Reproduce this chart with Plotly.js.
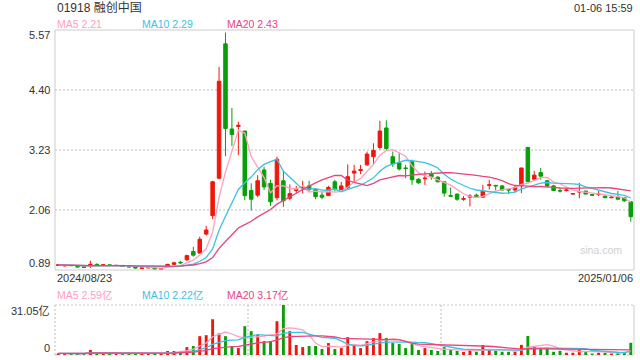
<!DOCTYPE html>
<html><head><meta charset="utf-8">
<script src="https://cdn.plot.ly/plotly-3.0.1.min.js"></script>
<style>html,body{margin:0;padding:0;background:#fff}#chart{width:640px;height:360px}</style>
</head><body><div id="chart"></div>
<script>
// ---- data (HKD, volume in 亿) ----
const openP  = [0.98,0.97,0.985,0.96,0.95,0.99,1.00,0.985,0.99,0.975,0.97,0.96,0.95,0.92,0.93,0.93,0.905,0.97,1.00,1.04,
                1.09,1.25,1.22,1.59,1.95,2.68,5.30,3.64,3.69,3.60,2.44,2.35,2.84,2.58,2.30,2.63,2.29,2.44,2.49,2.53,
                2.46,2.35,2.34,2.61,2.46,2.50,2.78,2.83,2.94,3.10,3.28,3.66,3.10,2.98,2.88,3.00,2.66,2.67,2.76,2.70,
                2.61,2.34,2.37,2.27,2.31,2.35,2.31,2.54,2.54,2.53,2.46,2.45,2.53,3.28,2.66,2.79,2.63,2.53,2.44,2.44,
                2.37,2.41,2.43,2.36,2.36,2.33,2.30,2.31,2.30,2.22];
const highP  = [1.00,0.985,0.99,0.97,0.955,1.07,1.02,1.00,0.995,0.99,0.98,0.965,0.955,0.94,0.955,0.935,0.92,1.01,1.05,1.07,
                1.19,1.34,1.54,1.75,2.63,4.85,5.52,4.05,3.78,3.60,2.58,2.74,2.90,2.65,3.10,2.83,2.56,2.53,2.63,2.63,
                2.46,2.42,2.53,2.65,2.61,2.95,2.94,2.94,3.20,3.36,3.80,3.81,3.20,3.18,2.94,3.04,2.68,2.81,2.82,2.72,
                2.61,2.50,2.38,2.33,2.37,2.38,2.55,2.65,2.55,2.55,2.46,2.55,2.88,3.29,2.82,2.88,2.65,2.55,2.50,2.48,
                2.39,2.59,2.43,2.37,2.43,2.34,2.32,2.43,2.31,2.22];
const lowP   = [0.97,0.96,0.97,0.945,0.93,0.93,0.98,0.98,0.97,0.97,0.95,0.94,0.92,0.91,0.925,0.90,0.90,0.96,0.99,1.01,
                1.06,1.15,1.21,1.56,1.88,2.66,3.11,3.31,3.13,2.25,2.05,2.31,2.45,2.14,2.25,2.12,2.25,2.38,2.38,2.42,
                2.27,2.27,2.34,2.42,2.44,2.46,2.61,2.76,2.92,2.94,3.24,3.22,2.90,2.83,2.68,2.55,2.57,2.55,2.65,2.60,
                2.32,2.33,2.24,2.24,2.13,2.31,2.31,2.46,2.44,2.44,2.37,2.40,2.39,2.61,2.65,2.65,2.50,2.43,2.40,2.42,
                2.36,2.29,2.37,2.34,2.33,2.29,2.29,2.27,2.22,1.83];
const closeP = [0.99,0.98,0.975,0.95,0.94,1.00,0.99,0.99,0.98,0.98,0.96,0.95,0.93,0.93,0.945,0.91,0.915,1.00,1.03,1.03,
                1.17,1.18,1.49,1.67,2.61,4.57,3.65,3.53,3.71,2.34,2.27,2.63,2.51,2.22,3.05,2.24,2.38,2.46,2.51,2.46,
                2.32,2.31,2.50,2.46,2.53,2.71,2.82,2.85,3.15,3.22,3.60,3.26,2.96,2.86,2.87,2.65,2.59,2.68,2.71,2.61,
                2.39,2.33,2.27,2.28,2.33,2.31,2.43,2.55,2.53,2.45,2.45,2.50,2.88,2.61,2.74,2.72,2.53,2.44,2.43,2.45,
                2.38,2.42,2.37,2.35,2.37,2.30,2.31,2.27,2.24,1.93];
const volume = [1.0,0.8,1.0,0.9,0.9,3.1,1.0,0.9,0.9,0.8,0.9,1.0,0.9,1.0,1.1,1.2,1.0,2.5,2.5,2.5,
                4.9,5.6,11.7,12.3,22.2,13.4,11.7,5.6,4.3,17.9,14.8,12.7,8.6,8.6,21.0,31.05,14.8,6.2,4.9,5.6,
                5.6,3.7,7.4,3.7,4.3,11.1,6.2,4.3,8.6,10.5,13.6,10.5,7.4,6.8,4.3,7.4,3.1,4.3,3.1,2.5,
                4.9,3.1,2.5,1.9,3.1,1.9,6.2,3.1,2.5,2.0,2.0,2.0,6.3,11.8,5.2,4.4,4.4,2.0,2.6,1.4,
                1.4,3.5,2.2,0.9,1.4,1.4,0.9,1.4,1.5,7.6];
const priceTicks = [0.89, 2.06, 3.23, 4.40, 5.57];
const priceTickText = ['0.89','2.06','3.23','4.40','5.57'];
const volTicks = [0, 31.05];
const volTickText = ['0','31.05亿'];
const dateLabels = ['2024/08/23','2025/01/06'];
const stockTitle = '01918 融创中国';
const timeLabel = '01-06 15:59';
const priceMALabels = ['MA5 2.21','MA10 2.29','MA20 2.43'];
const volMALabels = ['MA5 2.59亿','MA10 2.22亿','MA20 3.17亿'];
const maPeriods = [5, 10, 20];

// ---- styling ----
const RED = '#f0160c', GREEN = '#089e08';
const MA_COLORS = ['#ffa0c0', '#3cc2e2', '#e8457e'];
const FONT = 'Liberation Sans, Arial, Noto Sans CJK SC, sans-serif';
const L = 55, R = 634, T = 30, B = 355;
const px2x = px => (px - L) / (R - L);
const py2y = py => (B - py) / (B - T);

function movingAvg(arr, n) {
  return arr.map((_, i) => {
    const s = Math.max(0, i - n + 1);
    let sum = 0;
    for (let j = s; j <= i; j++) sum += arr[j];
    return sum / (i - s + 1);
  });
}

const idx = closeP.map((_, i) => i);
const traces = [];
traces.push({
  type: 'candlestick', x: idx, open: openP, high: highP, low: lowP, close: closeP,
  xaxis: 'x', yaxis: 'y', whiskerwidth: 0, hoverinfo: 'skip',
  increasing: {line: {color: RED, width: 1}, fillcolor: RED},
  decreasing: {line: {color: GREEN, width: 1}, fillcolor: GREEN}
});
maPeriods.forEach((n, k) => {
  traces.push({type: 'scatter', mode: 'lines', x: idx, y: movingAvg(closeP, n), xaxis: 'x', yaxis: 'y',
    line: {color: MA_COLORS[k], width: 1.3}, hoverinfo: 'skip'});
});
traces.push({
  type: 'bar', x: idx, y: volume, xaxis: 'x2', yaxis: 'y2', width: 0.45,
  marker: {color: closeP.map((c, i) => c >= openP[i] ? RED : GREEN), line: {width: 0}}, hoverinfo: 'skip'
});
maPeriods.forEach((n, k) => {
  traces.push({type: 'scatter', mode: 'lines', x: idx, y: movingAvg(volume, n), xaxis: 'x2', yaxis: 'y2',
    line: {color: MA_COLORS[k], width: 1.3}, hoverinfo: 'skip'});
});

const ann = [];
const txt = (text, x, y, xanchor, color, size, extra) => Object.assign({
  text, x, y, xref: 'paper', yref: 'paper', xanchor, yanchor: 'middle', showarrow: false,
  font: {family: FONT, size, color}
}, extra || {});
ann.push(txt(stockTitle, px2x(55), py2y(8), 'left', '#333', 12));
ann.push(txt(timeLabel, px2x(635), py2y(8), 'right', '#333', 11));
const legX = [55, 140, 225];
priceMALabels.forEach((t, k) => ann.push(txt(t, px2x(legX[k]), py2y(24), 'left', MA_COLORS[k], 10.5)));
volMALabels.forEach((t, k) => ann.push(txt(t, px2x(legX[k]), py2y(294.5), 'left', MA_COLORS[k], 10.5)));
priceTicks.forEach((v, k) => {
  const shift = k === 0 ? 7 : (k === priceTicks.length - 1 ? -4.5 : 0);
  ann.push({text: priceTickText[k], x: px2x(52), y: v, xref: 'paper', yref: 'y', xanchor: 'right', yanchor: 'middle',
    yshift: shift, showarrow: false, font: {family: FONT, size: 11, color: '#333'}});
});
volTicks.forEach((v, k) => {
  ann.push({text: volTickText[k], x: px2x(52), y: v, xref: 'paper', yref: 'y2', xanchor: 'right', yanchor: 'middle',
    yshift: k === 0 ? 7 : -6, showarrow: false, font: {family: FONT, size: 11, color: '#333'}});
});
ann.push(txt(dateLabels[0], px2x(55), py2y(278), 'left', '#333', 11));
ann.push(txt(dateLabels[1], px2x(635), py2y(278), 'right', '#333', 11));
ann.push(txt('sina.com', px2x(624), py2y(249.5), 'right', '#cfcfcf', 10.5));

const vTop = py2y(305), pBot = py2y(270);
const dotted = {color: '#c8c8c8', width: 1.2, dash: '2px,2px'};
const shapes = [
  {type: 'rect', xref: 'paper', yref: 'paper', x0: 0, x1: 1, y0: pBot, y1: 1, line: {color: '#cccccc', width: 1}},
  {type: 'line', xref: 'paper', yref: 'paper', x0: 0, x1: 1, y0: vTop, y1: vTop, line: dotted, layer: 'below'},
  {type: 'line', xref: 'paper', yref: 'paper', x0: 0, x1: 1, y0: 0, y1: 0, line: dotted, layer: 'below'},
  {type: 'line', xref: 'paper', yref: 'paper', x0: 0, x1: 0, y0: 0, y1: vTop, line: dotted, layer: 'below'},
  {type: 'line', xref: 'paper', yref: 'paper', x0: 1/3, x1: 1/3, y0: 0, y1: vTop, line: dotted, layer: 'below'},
  {type: 'line', xref: 'paper', yref: 'paper', x0: 2/3, x1: 2/3, y0: 0, y1: vTop, line: dotted, layer: 'below'},
  {type: 'line', xref: 'paper', yref: 'paper', x0: 1, x1: 1, y0: 0, y1: vTop, line: {color: '#cccccc', width: 1}}
];

const layout = {
  width: 640, height: 360, margin: {l: L, r: 640 - R, t: T, b: 360 - B, pad: 0},
  paper_bgcolor: '#fff', plot_bgcolor: '#fff', showlegend: false, boxgap: 0.22,
  font: {family: FONT},
  xaxis: {range: [-0.5, idx.length - 0.5], showticklabels: false, showgrid: false, zeroline: false,
    showline: false, ticks: '', rangeslider: {visible: false}, anchor: 'y'},
  xaxis2: {matches: 'x', range: [-0.5, idx.length - 0.5], showticklabels: false, showgrid: false, zeroline: false,
    showline: false, ticks: '', anchor: 'y2'},
  yaxis: {domain: [pBot, 1], range: [priceTicks[0], priceTicks[priceTicks.length - 1]], tickmode: 'array',
    tickvals: priceTicks.slice(1, -1), showticklabels: false, showgrid: true, gridcolor: '#dedede',
    griddash: '2px,2px', gridwidth: 1.5, zeroline: false, showline: false, ticks: ''},
  yaxis2: {domain: [0, vTop], range: [0, volTicks[1]], showticklabels: false, showgrid: false,
    zeroline: false, showline: false, ticks: ''},
  annotations: ann, shapes: shapes
};
Plotly.newPlot('chart', traces, layout, {staticPlot: true, displayModeBar: false});
</script>
</body></html>
